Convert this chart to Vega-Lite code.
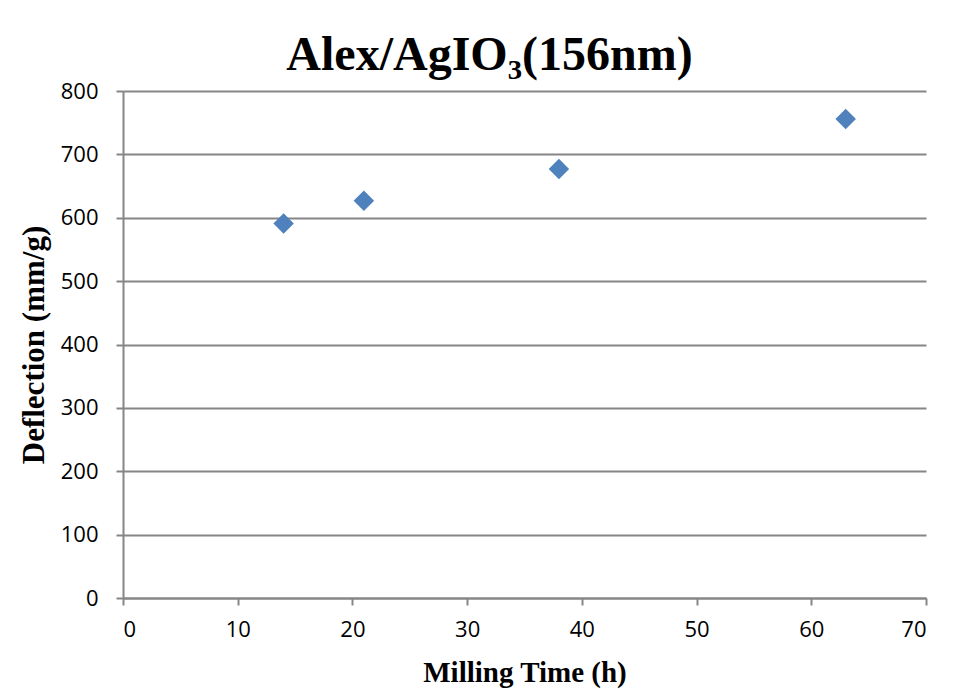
{
  "$schema": "https://vega.github.io/schema/vega-lite/v6.json",
  "width": 803,
  "height": 507,
  "autosize": {"type": "none"},
  "padding": {"left": 123, "top": 91, "right": 30, "bottom": 91},
  "background": "white",
  "title": {
    "text": "Alex/AgIO₃(156nm)",
    "font": "Liberation Serif",
    "fontSize": 48,
    "fontWeight": "bold",
    "color": "#000000",
    "anchor": "middle",
    "offset": 0,
    "dx": -35
  },
  "data": {
    "values": [
      {"time": 14, "deflection": 591},
      {"time": 21, "deflection": 627},
      {"time": 38, "deflection": 677},
      {"time": 63, "deflection": 756}
    ]
  },
  "mark": {"type": "point", "shape": "diamond", "filled": true, "size": 420, "color": "#4F81BD", "opacity": 1},
  "encoding": {
    "x": {
      "field": "time",
      "type": "quantitative",
      "scale": {"domain": [0, 70], "nice": false, "zero": true},
      "axis": {
        "title": "Milling Time (h)",
        "values": [0, 10, 20, 30, 40, 50, 60, 70],
        "grid": false,
        "domainColor": "#868686",
        "domainWidth": 2,
        "tickColor": "#868686",
        "tickWidth": 2,
        "tickSize": 7,
        "labelFont": "Open Sans",
        "labelFontSize": 22,
        "labelColor": "#000000",
        "labelPadding": 14,
        "titleFont": "Liberation Serif",
        "titleFontSize": 29,
        "titleFontWeight": "bold",
        "titleColor": "#000000",
        "titlePadding": 18
      }
    },
    "y": {
      "field": "deflection",
      "type": "quantitative",
      "scale": {"domain": [0, 800], "nice": false},
      "axis": {
        "title": "Deflection (mm/g)",
        "values": [0, 100, 200, 300, 400, 500, 600, 700, 800],
        "grid": true,
        "gridColor": "#868686",
        "gridWidth": 2,
        "domainColor": "#868686",
        "domainWidth": 2,
        "tickColor": "#868686",
        "tickWidth": 2,
        "tickSize": 7,
        "labelFont": "Open Sans",
        "labelFontSize": 22,
        "labelColor": "#000000",
        "labelPadding": 18,
        "titleFont": "Liberation Serif",
        "titleFontSize": 31,
        "titleFontWeight": "bold",
        "titleColor": "#000000",
        "titlePadding": 10
      }
    }
  },
  "config": {"view": {"stroke": null}}
}
